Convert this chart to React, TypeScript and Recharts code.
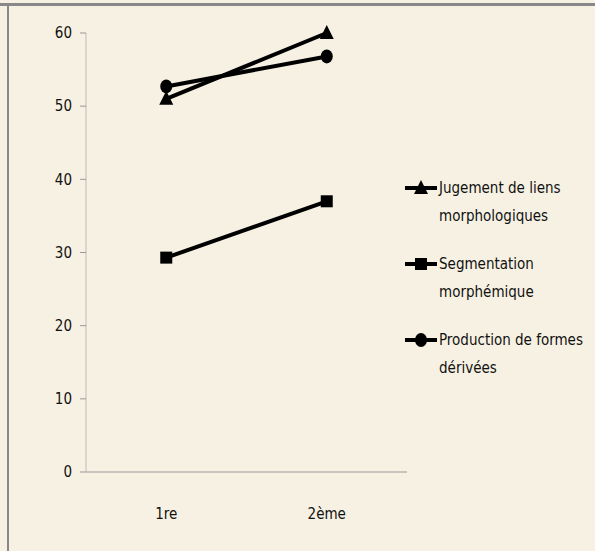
import React from 'react'
import { LineChart, Line, XAxis, YAxis } from 'recharts'

const categories = ['1re', '2ème']
const jugement = [51, 60]
const segmentation = [29.3, 37]
const production = [52.7, 56.8]
const yTicks = [0, 10, 20, 30, 40, 50, 60]

const series = [
  { key: 'jugement', name: 'Jugement de liens morphologiques', lines: ['Jugement de liens', 'morphologiques'], shape: 'triangle' },
  { key: 'segmentation', name: 'Segmentation morphémique', lines: ['Segmentation', 'morphémique'], shape: 'square' },
  { key: 'production', name: 'Production de formes dérivées', lines: ['Production de formes', 'dérivées'], shape: 'circle' },
]

const data = categories.map((c, i) => ({
  x: i + 0.5,
  cat: c,
  jugement: jugement[i],
  segmentation: segmentation[i],
  production: production[i],
}))

const FONT = '"Liberation Sans Narrow", "Arial Narrow", "DejaVu Sans Condensed", sans-serif'

function Marker({ cx, cy, shape }: any) {
  if (cx == null || cy == null) return null
  if (shape === 'triangle')
    return <polygon points={`${cx},${cy - 8} ${cx - 7},${cy + 6} ${cx + 7},${cy + 6}`} fill="#000" />
  if (shape === 'square') return <rect x={cx - 6} y={cy - 6} width={12} height={12} fill="#000" />
  return <ellipse cx={cx} cy={cy} rx={6} ry={7} fill="#000" />
}

function LegendBox() {
  return (
    <div
      style={{
        position: 'absolute',
        left: 403,
        top: 174,
        width: 192,
        fontFamily: FONT,
        fontSize: 15,
        color: '#111',
        lineHeight: '28px',
      }}
    >
      {series.map((s) => (
        <div key={s.key} style={{ display: 'flex', marginBottom: 20 }}>
          <svg width={36} height={28} style={{ flex: 'none' }}>
            <line x1={2} y1={14} x2={34} y2={14} stroke="#000" strokeWidth={4} />
            <Marker cx={18} cy={14} shape={s.shape} />
          </svg>
          <div>
            {s.lines.map((l) => (
              <div key={l}>{l}</div>
            ))}
          </div>
        </div>
      ))}
    </div>
  )
}

export default function App() {
  return (
    <div
      style={{
        position: 'absolute',
        left: 0,
        top: 0,
        width: 595,
        height: 551,
        background: '#F7F1E3',
        overflow: 'hidden',
      }}
    >
      <div style={{ position: 'absolute', left: 0, top: 3, width: 595, height: 3, background: '#888' }} />
      <div style={{ position: 'absolute', left: 7, top: 3, width: 2, height: 548, background: '#888' }} />
      <div style={{ position: 'absolute', left: 0, top: 0 }}>
        <LineChart
          width={595}
          height={551}
          data={data}
          margin={{ top: 33, right: 188, bottom: 49, left: 36 }}
          style={{ fontFamily: FONT }}
        >
          <XAxis
            xAxisId="lab"
            dataKey="x"
            type="number"
            domain={[0, 2]}
            ticks={[0.5, 1.5]}
            tickFormatter={(v: number) => categories[Math.floor(v)]}
            tickLine={false}
            axisLine={{ stroke: '#999' }}
            tick={{ fontSize: 15, fill: '#111', dy: 28 }}
            height={30}
          />
          <XAxis
            xAxisId="tk"
            dataKey="x"
            type="number"
            domain={[0, 2]}
            ticks={[0, 1, 2]}
            tick={false}
            tickLine={{ stroke: '#999' }}
            tickSize={6}
            axisLine={false}
            height={0}
          />
          <YAxis
            domain={[0, 60]}
            ticks={yTicks}
            width={50}
            tickLine={{ stroke: '#999' }}
            axisLine={{ stroke: '#bbb' }}
            tickSize={6}
            tickMargin={8}
            tick={{ fontSize: 15, fill: '#111' }}
          />
          {series.map((s) => (
            <Line
              key={s.key}
              xAxisId="lab"
              dataKey={s.key}
              name={s.name}
              stroke="#000"
              strokeWidth={4}
              dot={(p: any) => <Marker key={p.index} cx={p.cx} cy={p.cy} shape={s.shape} />}
              activeDot={false}
              isAnimationActive={false}
            />
          ))}
        </LineChart>
      </div>
      <LegendBox />
    </div>
  )
}
